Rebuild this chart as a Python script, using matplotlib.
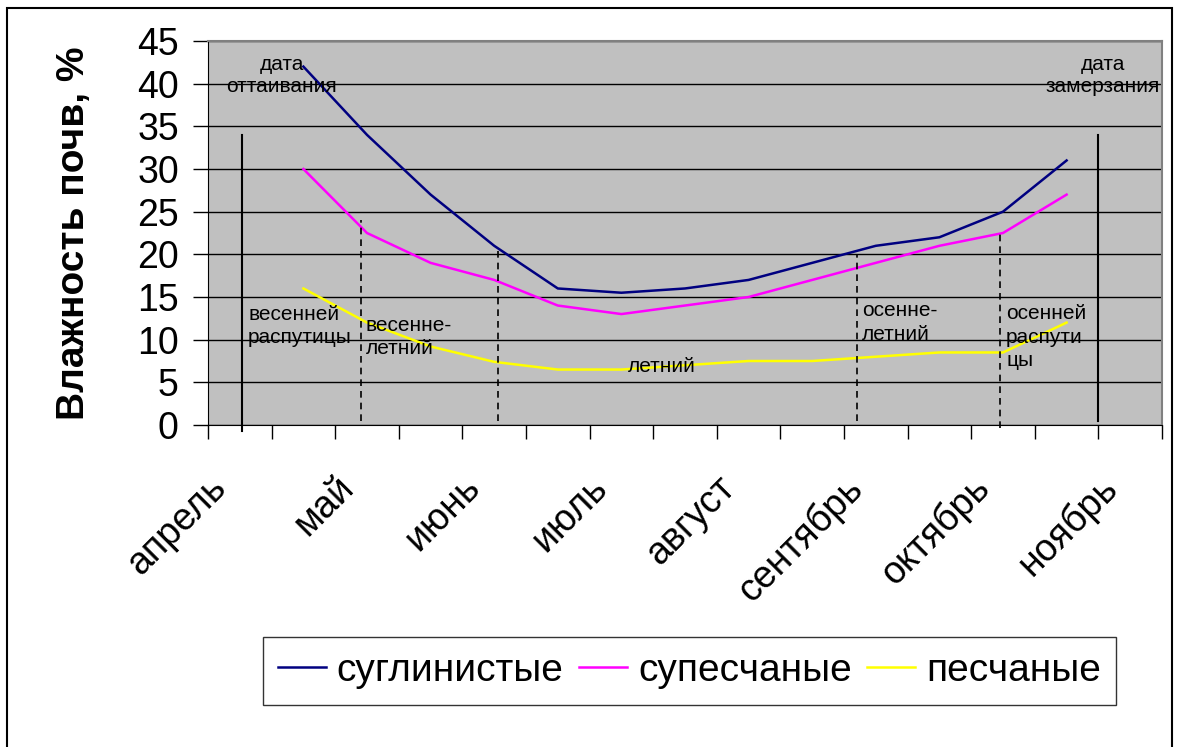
import numpy as np
import matplotlib
matplotlib.use('Agg')
import matplotlib.pyplot as plt
import matplotlib.transforms as mtrans
from matplotlib.patches import Rectangle

plt.rcParams['font.family'] = ['Liberation Sans', 'DejaVu Sans']

# categories (15 slots, label on every other one)
months = ['апрель', '', 'май', '', 'июнь', '', 'июль', '', 'август', '',
          'сентябрь', '', 'октябрь', '', 'ноябрь']
nan = np.nan
suglin = [nan, 42, 34, 27, 21, 16, 15.5, 16, 17, 19, 21, 22, 25, 31, nan]
supes = [nan, 30, 22.5, 19, 17, 14, 13, 14, 15, 17, 19, 21, 22.5, 27, nan]
pesch = [nan, 16, 12, 9.2, 7.4, 6.5, 6.5, 7, 7.5, 7.5, 8, 8.5, 8.5, 12, nan]
names = ['суглинистые', 'супесчаные', 'песчаные']
colors = ['#000080', '#FF00FF', '#FFFF00']

# period boundaries: (x, top, bottom)
solid_lines = [(0.03, 34, -0.7), (13.5, 34, 0.5)]
dashed_lines = [(1.9, 24, 0.5), (4.06, 21, 0.5), (9.7, 20, 0.5), (11.95, 22.5, -0.4)]

fig = plt.figure(figsize=(11.79, 7.47), dpi=100)
ax = fig.add_axes([208/1179, 1-425/747, 954/1179, 384/747])
ax.set_facecolor('#C0C0C0')

x = np.arange(len(months))
for vals, nm, c in zip([suglin, supes, pesch], names, colors):
    ax.plot(x, vals, color=c, lw=1.8, label=nm)

for xv, top, bot in solid_lines:
    ax.plot([xv, xv], [bot, top], color='black', lw=1.5, clip_on=False)
for xv, top, bot in dashed_lines:
    ax.plot([xv, xv], [bot, top], color='black', lw=1.2, ls=(0, (4, 3)), clip_on=False)

ax.set_xlim(-0.5, len(months)-0.5)
ax.set_ylim(0, 45)
ax.set_yticks(range(0, 46, 5))
ax.yaxis.grid(True, color='black', lw=1)
ax.set_axisbelow(True)
ax.tick_params(axis='y', labelsize=27, direction='out', length=11, width=1, pad=10)

ax.set_xticks(x[::2])
ax.set_xticklabels(months[::2], rotation=45, ha='right', va='top', rotation_mode='anchor')
ax.set_xticks(np.arange(-0.5, len(months), 1), minor=True)
ax.tick_params(axis='x', which='major', length=0, labelsize=27, pad=32)
ax.tick_params(axis='x', which='minor', length=10, width=1, direction='out')
shift = mtrans.ScaledTranslation(-23/72, 0, fig.dpi_scale_trans)
for lab in ax.get_xticklabels():
    lab.set_transform(lab.get_transform() + shift)

for s in ['top', 'right']:
    ax.spines[s].set_color('#808080')
    ax.spines[s].set_linewidth(1.5)
for s in ['left', 'bottom']:
    ax.spines[s].set_color('black')

ax.set_ylabel('Влажность почв, %', fontsize=28, fontweight='bold')
ax.yaxis.set_label_coords(-0.122, 0.5)

tfs = 15
ax.text(0.66, 40.9, 'дата\nоттаивания', fontsize=tfs, ha='center', va='center', linespacing=1.2)
ax.text(13.57, 40.9, 'дата\nзамерзания', fontsize=tfs, ha='center', va='center', linespacing=1.2)
ax.text(0.13, 11.6, 'весенней\nраспутицы', fontsize=tfs, ha='left', va='center', linespacing=1.3)
ax.text(1.98, 10.3, 'весенне-\nлетний', fontsize=tfs, ha='left', va='center', linespacing=1.3)
ax.text(6.1, 6.9, 'летний', fontsize=tfs, ha='left', va='center')
ax.text(9.78, 12.0, 'осенне-\nлетний', fontsize=tfs, ha='left', va='center', linespacing=1.3)
ax.text(12.05, 10.3, 'осенней\nраспути\nцы', fontsize=tfs, ha='left', va='center', linespacing=1.3)

leg = fig.legend(loc='center', bbox_to_anchor=(689.5/1179, 1-671/747), ncol=3,
                 fontsize=28, frameon=True, fancybox=False, edgecolor='black',
                 handlelength=1.23, handletextpad=0.28, columnspacing=0.4,
                 borderpad=0.4)
leg.get_frame().set_linewidth(1)

fig.patches.append(Rectangle((7/1179, -0.05), 1165/1179, 1.05-8/747, transform=fig.transFigure,
                             fill=False, edgecolor='black', lw=1.5))

fig.savefig('out.png', dpi=100)
